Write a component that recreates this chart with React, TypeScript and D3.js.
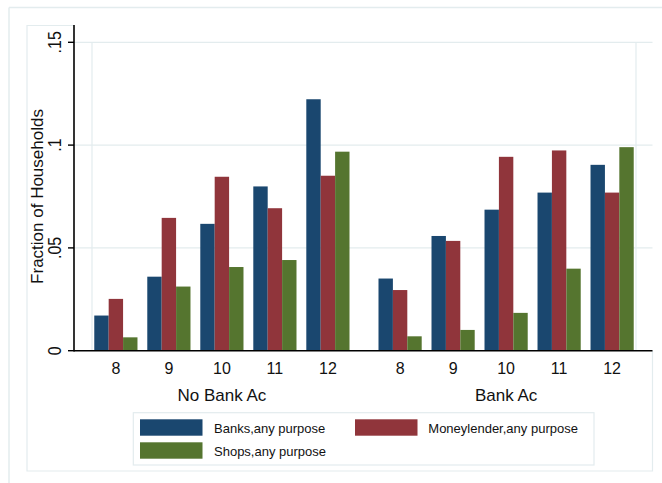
import React from "react";
import * as d3 from "d3";

// Borrowing sources by household group and class level
const panels = ["No Bank Ac", "Bank Ac"];
const categories = ["8", "9", "10", "11", "12"];
const seriesNames = ["Banks,any purpose", "Moneylender,any purpose", "Shops,any purpose"];
const seriesColors = ["#1a476f", "#90353b", "#55752f"];

const banksNoAc = [0.0171, 0.036, 0.0617, 0.0799, 0.1223];
const moneyNoAc = [0.0252, 0.0646, 0.0846, 0.0693, 0.0851];
const shopsNoAc = [0.0065, 0.0312, 0.0407, 0.0441, 0.0968];

const banksAc = [0.0351, 0.0558, 0.0686, 0.0769, 0.0904];
const moneyAc = [0.0295, 0.0534, 0.0943, 0.0974, 0.0769];
const shopsAc = [0.007, 0.0101, 0.0184, 0.0399, 0.099];

const yTicks = [0, 0.05, 0.1, 0.15];
const yTickLabels = ["0", ".05", ".1", ".15"];
const yTitle = "Fraction of Households";

const panelSeries = [
  [banksNoAc, moneyNoAc, shopsNoAc],
  [banksAc, moneyAc, shopsAc],
];

const W = 662;
const H = 483;
const FONT = "'Liberation Sans', Arial, sans-serif";
const FAINT = "#e3ecee";

export default function App() {
  const plotLeft = 92;
  const plotRight = 636;
  const axisX = 74;
  const axisRight = 652.5;
  const y = d3.scaleLinear().domain([0, 0.15]).range([350.7, 42.3]);
  const y0 = y(0);

  const xPanel = d3
    .scaleBand<string>()
    .domain(panels)
    .range([plotLeft, plotRight])
    .paddingInner(0.102)
    .paddingOuter(0.008);
  const xCat = d3
    .scaleBand<string>()
    .domain(categories)
    .range([0, xPanel.bandwidth()])
    .paddingInner(0.185)
    .paddingOuter(0);
  const xSeries = d3
    .scaleBand<string>()
    .domain(seriesNames)
    .range([0, xCat.bandwidth()])
    .padding(0);

  const legendItems = [
    { name: seriesNames[0], color: seriesColors[0], kx: 140, ky: 419.3, tx: 214, ty: 432.7 },
    { name: seriesNames[1], color: seriesColors[1], kx: 355, ky: 419.3, tx: 428.3, ty: 432.7 },
    { name: seriesNames[2], color: seriesColors[2], kx: 140, ky: 442.3, tx: 214, ty: 455.5 },
  ];

  return (
    <div style={{ position: "fixed", left: 0, top: 0, width: W, height: H, background: "#fff" }}>
      <svg width={W} height={H} style={{ display: "block" }} fontFamily={FONT}>
        <rect x={0} y={0} width={W} height={H} fill="#fff" />

        {/* outer graph region frame */}
        <line x1={9} y1={7.5} x2={W} y2={7.5} stroke={FAINT} strokeWidth={1.5} />
        <line x1={9} y1={7.5} x2={9} y2={H} stroke={FAINT} strokeWidth={1.5} />

        {/* inner region frame */}
        <path
          d={`M${axisX},25.5 H27 V471 H${axisRight} V${y0}`}
          fill="none"
          stroke={FAINT}
          strokeWidth={1.2}
        />

        {/* gridlines */}
        {yTicks.slice(1).map((t) => (
          <line key={t} x1={axisX} x2={axisRight} y1={y(t)} y2={y(t)} stroke={FAINT} strokeWidth={1.2} />
        ))}
        {/* plot region borders */}
        <line x1={plotLeft} x2={plotLeft} y1={y(0.15)} y2={y0} stroke={FAINT} strokeWidth={1.2} />
        <line x1={plotRight} x2={plotRight} y1={y(0.15)} y2={y0} stroke={FAINT} strokeWidth={1.2} />

        {/* bars */}
        {panels.map((p, pi) =>
          categories.map((c, ci) =>
            seriesNames.map((s, si) => {
              const v = panelSeries[pi][si][ci];
              const x0 = (xPanel(p) as number) + (xCat(c) as number) + (xSeries(s) as number);
              return (
                <rect
                  key={`${p}-${c}-${s}`}
                  x={x0}
                  y={y(v)}
                  width={xSeries.bandwidth()}
                  height={y0 - y(v)}
                  fill={seriesColors[si]}
                />
              );
            })
          )
        )}

        {/* y axis */}
        <line x1={axisX} x2={axisX} y1={25} y2={y0 + 0.7} stroke="#000" strokeWidth={1.6} />
        {yTicks.map((t, i) => (
          <g key={t}>
            <line x1={axisX - 6} x2={axisX} y1={y(t)} y2={y(t)} stroke="#000" strokeWidth={1.4} />
            <text
              transform={`translate(60.5,${y(t)}) scale(1.2,1) rotate(-90)`}
              textAnchor="middle"
              fontSize={16}
              fill="#111"
            >
              {yTickLabels[i]}
            </text>
          </g>
        ))}
        <text
          transform={`translate(42.5,${(y(0) + y(0.15)) / 2}) rotate(-90)`}
          textAnchor="middle"
          fontSize={17}
          fill="#111"
        >
          {yTitle}
        </text>

        {/* x axis */}
        <line x1={axisX} x2={axisRight} y1={y0} y2={y0} stroke="#000" strokeWidth={1.6} />
        {panels.map((p) => (
          <g key={p}>
            {categories.map((c) => (
              <text
                key={c}
                x={(xPanel(p) as number) + (xCat(c) as number) + xCat.bandwidth() / 2}
                y={373.5}
                textAnchor="middle"
                fontSize={16}
                fill="#111"
              >
                {c}
              </text>
            ))}
            <text
              x={(xPanel(p) as number) + xPanel.bandwidth() / 2}
              y={400.7}
              textAnchor="middle"
              fontSize={17}
              fill="#111"
            >
              {p}
            </text>
          </g>
        ))}

        {/* legend */}
        <rect x={133.3} y={412.7} width={460.7} height={52.3} fill="#fff" stroke={FAINT} strokeWidth={1.2} />
        {legendItems.map((it) => (
          <g key={it.name}>
            <rect x={it.kx} y={it.ky} width={62.5} height={16.4} fill={it.color} />
            <text x={it.tx} y={it.ty} fontSize={13} fill="#111">
              {it.name}
            </text>
          </g>
        ))}
      </svg>
    </div>
  );
}
